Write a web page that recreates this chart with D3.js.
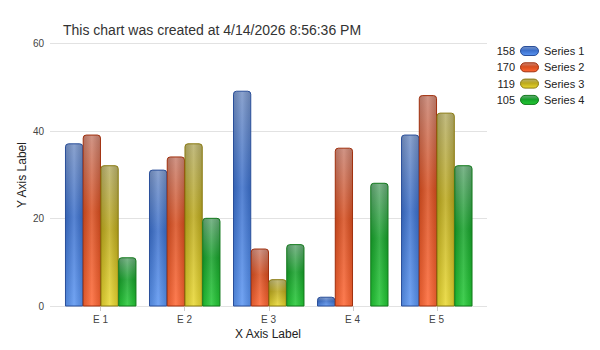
<!DOCTYPE html>
<html><head><meta charset="utf-8">
<script src="https://cdn.jsdelivr.net/npm/d3@7"></script>
<style>body{margin:0;background:#fff}svg{display:block}</style>
</head><body>
<svg id="c" width="600" height="350"></svg>
<script>
const categories = ["E 1","E 2","E 3","E 4","E 5"];
const seriesNames = ["Series 1","Series 2","Series 3","Series 4"];
const s1 = [37,31,49,2,39];
const s2 = [39,34,13,36,48];
const s3 = [32,37,6,0,44];
const s4 = [11,20,14,28,32];
const yTicks = [0,20,40,60];
const titleText = "This chart was created at 4/14/2026 8:56:36 PM";
const palettes = [
  {top:"#7793c6", mid:"#3b6fcb", bot:"#5a95f2", stroke:"#2a4f9a"},
  {top:"#c98372", mid:"#d84e1f", bot:"#ff6633", stroke:"#a0300e"},
  {top:"#b7af6a", mid:"#bca91c", bot:"#e9d830", stroke:"#8a7a10"},
  {top:"#66a877", mid:"#16a12a", bot:"#22c934", stroke:"#137a1c"}
];
const allSeries = [s1,s2,s3,s4];

const svg = d3.select("#c");
const x = d3.scaleBand().domain(categories).range([58.5, 478.5]).paddingInner(0.155).paddingOuter(0.077);
const xs = d3.scaleBand().domain(seriesNames).range([0, x.bandwidth()]);
const y = d3.scaleLinear().domain([0,60]).range([306, 43]);

const defs = svg.append("defs");
palettes.forEach((p,i)=>{
  const g = defs.append("linearGradient").attr("id","v"+i).attr("x1",0).attr("y1",0).attr("x2",0).attr("y2",1);
  g.append("stop").attr("offset","0%").attr("stop-color",p.top);
  g.append("stop").attr("offset","45%").attr("stop-color",p.mid);
  g.append("stop").attr("offset","100%").attr("stop-color",p.bot);
});
const hg = defs.append("linearGradient").attr("id","h").attr("x1",0).attr("y1",0).attr("x2",1).attr("y2",0);
hg.append("stop").attr("offset","0%").attr("stop-color","#000").attr("stop-opacity",0.12);
hg.append("stop").attr("offset","50%").attr("stop-color","#fff").attr("stop-opacity",0.15);
hg.append("stop").attr("offset","100%").attr("stop-color","#000").attr("stop-opacity",0.12);

svg.append("g").selectAll("line").data(yTicks).join("line")
  .attr("x1",50).attr("x2",487).attr("y1",d=>Math.round(y(d))+0.5).attr("y2",d=>Math.round(y(d))+0.5)
  .attr("stroke","#e2e2e2");
svg.append("g").selectAll("text").data(yTicks).join("text")
  .attr("x",44).attr("y",d=>y(d)+4).attr("text-anchor","end")
  .attr("font-family","Liberation Sans, Arial, sans-serif").attr("font-size",10).attr("fill","#444")
  .text(d=>d);

const xg = svg.append("g");
xg.selectAll("line").data(categories).join("line")
  .attr("x1",d=>Math.round(x(d)+x.bandwidth()/2)+0.5).attr("x2",d=>Math.round(x(d)+x.bandwidth()/2)+0.5)
  .attr("y1",306).attr("y2",311).attr("stroke","#ccc");
xg.selectAll("text").data(categories).join("text")
  .attr("x",d=>x(d)+x.bandwidth()/2).attr("y",323).attr("text-anchor","middle")
  .attr("font-family","Liberation Sans, Arial, sans-serif").attr("font-size",10).attr("fill","#444")
  .text(d=>d);

function barPath(x0,w,yTop,yBot){
  const r = Math.min(3, w/2, (yBot-yTop));
  return `M${x0},${yBot}V${yTop+r}Q${x0},${yTop} ${x0+r},${yTop}H${x0+w-r}Q${x0+w},${yTop} ${x0+w},${yTop+r}V${yBot}Z`;
}

const bars = svg.append("g");
allSeries.forEach((vals,si)=>{
  categories.forEach((c,ci)=>{
    const v = vals[ci];
    if (v<=0) return;
    const x0 = x(c)+xs(seriesNames[si])+0.5;
    const w = xs.bandwidth()-0.5;
    const d = barPath(x0,w,y(v),y(0));
    bars.append("path").attr("d",d).attr("fill",`url(#v${si})`);
    bars.append("path").attr("d",d).attr("fill","url(#h)").attr("stroke",palettes[si].stroke).attr("stroke-width",1);
  });
});

svg.append("text").attr("x",63).attr("y",35)
  .attr("font-family","Liberation Sans, Arial, sans-serif").attr("font-size",14).attr("fill","#333")
  .text(titleText);

svg.append("text").attr("x",268).attr("y",338).attr("text-anchor","middle")
  .attr("font-family","Liberation Sans, Arial, sans-serif").attr("font-size",12).attr("fill","#222").text("X Axis Label");
svg.append("text").attr("transform","translate(26,175) rotate(-90)").attr("text-anchor","middle")
  .attr("font-family","Liberation Sans, Arial, sans-serif").attr("font-size",12).attr("fill","#222").text("Y Axis Label");

const totals = allSeries.map(s=>d3.sum(s));
const lg = svg.append("g");
seriesNames.forEach((n,i)=>{
  const yy = 51 + i*16.3;
  lg.append("text").attr("x",515).attr("y",yy+4).attr("text-anchor","end")
    .attr("font-family","Liberation Sans, Arial, sans-serif").attr("font-size",11).attr("fill","#222").text(totals[i]);
  lg.append("rect").attr("x",520.5).attr("y",yy-4.5).attr("width",18).attr("height",9).attr("rx",4.5)
    .attr("fill",`url(#v${i})`).attr("stroke",palettes[i].stroke);
  lg.append("text").attr("x",544).attr("y",yy+4)
    .attr("font-family","Liberation Sans, Arial, sans-serif").attr("font-size",11).attr("fill","#222").text(n);
});
</script>
</body></html>
